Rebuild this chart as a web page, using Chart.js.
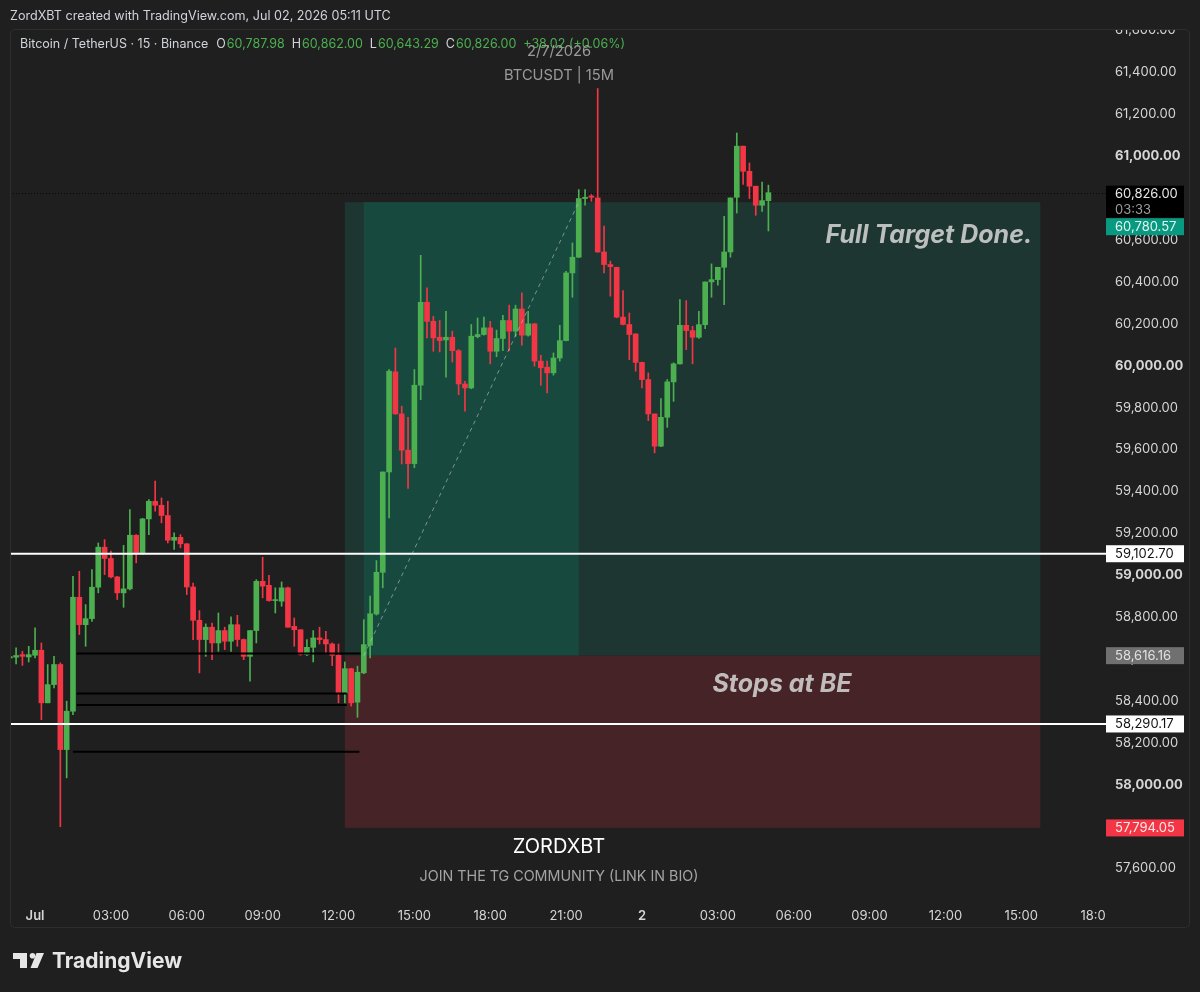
<!DOCTYPE html>
<html>
<head>
<meta charset="utf-8">
<script src="https://cdn.jsdelivr.net/npm/chart.js@4.4.1/dist/chart.umd.min.js"></script>
<style>
  html, body { margin: 0; padding: 0; background: #1f1f1f; }
</style>
</head>
<body>
<canvas id="btcChart" width="1200" height="992"></canvas>
<script>
// 15m candles, bar 0 = Jul 1 00:00 UTC
const firstBar = -4;
const opens = [
  58605, 58609, 58621, 58610,
  58618, 58642, 58391, 58478, 58574, 58168, 58351, 58895, 58764, 58793,
  58943, 59134, 59080, 58992, 58916, 58935, 59191, 59107, 59269, 59353,
  59334, 59285, 59167, 59181, 59150, 58944, 58785, 58693, 58752, 58677,
  58736, 58685, 58764, 58693, 58613, 58736, 58971, 58952, 58879, 58876,
  58940, 58756, 58740, 58621, 58656, 58701, 58693, 58672, 58618, 58438,
  58554, 58394, 58534, 58666, 58815, 59014, 59493, 59971, 59770, 59597,
  59533, 59907, 60303, 60212, 60136, 60123, 60136, 60072, 59913, 59894,
  60139, 60149, 60181, 60069, 60130, 60216, 60165, 60271, 60146, 60200,
  60022, 59993, 59966, 60037, 60120, 60443, 60518, 60798, 60810, 60801,
  60543, 60483, 60470, 60232, 60197, 60152, 60016, 59934, 59770, 59616,
  59754, 59923, 60009, 60193, 60168, 60136, 60196, 60400, 60411, 60470,
  60543, 60804, 61048, 60928, 60857, 60766, 60787.98
];
const highs = [
  58645, 58653, 58637, 58661,
  58749, 58677, 58574, 58613, 58582, 58399, 58995, 59019, 58860, 59027,
  59154, 59170, 59115, 58995, 59143, 59313, 59194, 59272, 59361, 59449,
  59369, 59353, 59202, 59194, 59152, 58963, 58831, 58768, 58772, 58820,
  58752, 58801, 58809, 58696, 58736, 58979, 59086, 59000, 58940, 58968,
  58943, 58796, 58740, 58693, 58736, 58752, 58732, 58677, 58672, 58586,
  58556, 58566, 58788, 58900, 59070, 59493, 59982, 60085, 59807, 59754,
  59982, 60527, 60372, 60236, 60216, 60260, 60165, 60077, 59926, 60197,
  60228, 60232, 60212, 60170, 60241, 60289, 60289, 60348, 60260, 60202,
  60050, 60022, 60061, 60193, 60451, 60586, 60841, 60841, 60817, 61323,
  60666, 60499, 60470, 60359, 60252, 60152, 60018, 59966, 59770, 59843,
  59934, 60014, 60316, 60311, 60188, 60260, 60400, 60486, 60470, 60713,
  60801, 61111, 61048, 60968, 60857, 60877, 60862
];
const lows = [
  58558, 58577, 58570, 58586,
  58606, 58311, 58391, 58462, 57800, 58033, 58335, 58717, 58661, 58780,
  58916, 59003, 58987, 58884, 58847, 58930, 59059, 59099, 59194, 59306,
  59250, 59154, 59123, 59131, 58908, 58693, 58534, 58613, 58597, 58637,
  58645, 58637, 58661, 58597, 58494, 58677, 58892, 58876, 58820, 58852,
  58752, 58661, 58618, 58616, 58586, 58672, 58625, 58569, 58391, 58391,
  58375, 58322, 58530, 58605, 58810, 58940, 59274, 59768, 59531, 59414,
  59513, 59838, 60133, 60069, 60066, 59945, 60018, 59862, 59783, 59890,
  60133, 60146, 60009, 60043, 60072, 60072, 60141, 60098, 60141, 59998,
  59907, 59870, 59955, 60022, 60118, 60327, 60516, 60766, 60785, 60541,
  60443, 60332, 60229, 60195, 60029, 59974, 59894, 59738, 59584, 59614,
  59706, 59830, 60007, 60077, 60009, 60130, 60177, 60327, 60384, 60292,
  60518, 60729, 60865, 60798, 60718, 60737, 60643.29
];
const closes = [
  58612, 58617, 58613, 58621,
  58642, 58391, 58478, 58574, 58168, 58351, 58895, 58764, 58793, 58943,
  59134, 59080, 58992, 58916, 58935, 59191, 59107, 59269, 59353, 59334,
  59285, 59167, 59181, 59150, 58944, 58785, 58693, 58752, 58677, 58736,
  58685, 58764, 58693, 58613, 58736, 58971, 58948, 58879, 58883, 58940,
  58752, 58740, 58621, 58656, 58701, 58693, 58672, 58618, 58438, 58554,
  58391, 58537, 58669, 58816, 59014, 59493, 59974, 59770, 59597, 59533,
  59907, 60303, 60212, 60133, 60120, 60136, 60072, 59913, 59894, 60141,
  60149, 60181, 60069, 60130, 60216, 60165, 60271, 60146, 60200, 60022,
  59990, 59966, 60037, 60120, 60443, 60518, 60798, 60804, 60804, 60543,
  60483, 60473, 60232, 60197, 60149, 60016, 59934, 59770, 59616, 59754,
  59923, 60009, 60193, 60168, 60136, 60196, 60400, 60411, 60470, 60543,
  60801, 61048, 60928, 60857, 60766, 60788, 60826
];

const timeTicks = [0, 12, 24, 36, 48, 60, 72, 84, 96, 108, 120, 132, 144, 156, 168];
const timeLabels = ['Jul', '03:00', '06:00', '09:00', '12:00', '15:00', '18:00', '21:00',
                    '2', '03:00', '06:00', '09:00', '12:00', '15:00', '18:00'];
const priceTicks = [57600, 57800, 58000, 58200, 58400, 58600, 58800, 59000, 59200,
                    59400, 59600, 59800, 60000, 60200, 60400, 60600, 60800, 61000,
                    61200, 61400, 61600];

// drawings
const horizontalLevels = [59102.70, 58290.17];
const liquidityPrices = [58626, 58436, 58381, 58158];
const liquidityFrom = [6.6, 6.6, 6.6, 6.0];
const liquidityTo = [51.5, 49.3, 49.3, 51.3];
const entryPrice = 58616.16;
const targetPrice = 60780.57;
const stopPrice = 57794.05;
const positionBars = [49, 159];     // start / end of long position tool
const runBars = [52, 86];           // entry -> target run

const visibleBars = [-3.962, 168.45];
const visiblePrices = [57450, 61612];

const bg = '#1f1f1f';
const upColor = '#4caf50';
const downColor = '#f23645';

const bars = opens.map((o, k) => firstBar + k);
const candleColors = opens.map((o, k) => closes[k] >= o ? upColor : downColor);
const last = opens.length - 1;

function fmt(v) {
  return v.toLocaleString('en-US', { minimumFractionDigits: 2, maximumFractionDigits: 2 });
}

const drawings = {
  id: 'drawings',
  beforeDatasetsDraw(chart) {
    const { ctx, chartArea: a, scales: { x, y } } = chart;
    const x0 = x.getPixelForValue(positionBars[0]);
    const x3 = x.getPixelForValue(positionBars[1]);
    const x1 = x.getPixelForValue(runBars[0]);
    const x2 = x.getPixelForValue(runBars[1]);
    const yT = y.getPixelForValue(targetPrice);
    const yE = y.getPixelForValue(entryPrice);
    const yS = y.getPixelForValue(stopPrice);
    ctx.save();
    ctx.fillStyle = '#1e3631';
    ctx.fillRect(x0, yT, x3 - x0, yE - yT);
    ctx.fillStyle = '#18493f';
    ctx.fillRect(x1, yT, x2 - x1, yE - yT);
    ctx.fillStyle = '#462327';
    ctx.fillRect(x0, yE, x3 - x0, yS - yE);

    // last price dotted line
    const yC = Math.round(y.getPixelForValue(closes[last])) + 0.5;
    ctx.strokeStyle = '#050505';
    ctx.lineWidth = 1;
    ctx.setLineDash([1, 2]);
    ctx.beginPath();
    ctx.moveTo(a.left, yC);
    ctx.lineTo(a.right + 6, yC);
    ctx.stroke();
    ctx.restore();
  },
  afterDatasetsDraw(chart) {
    const { ctx, chartArea: a, scales: { x, y } } = chart;
    ctx.save();
    // liquidity lines
    ctx.strokeStyle = '#000000';
    ctx.lineWidth = 2;
    liquidityPrices.forEach((p, k) => {
      const yy = y.getPixelForValue(p);
      ctx.beginPath();
      ctx.moveTo(x.getPixelForValue(liquidityFrom[k]), yy);
      ctx.lineTo(x.getPixelForValue(liquidityTo[k]), yy);
      ctx.stroke();
    });
    // white levels
    ctx.strokeStyle = '#ffffff';
    horizontalLevels.forEach(p => {
      const yy = y.getPixelForValue(p);
      ctx.beginPath();
      ctx.moveTo(a.left, yy);
      ctx.lineTo(a.right + 6, yy);
      ctx.stroke();
    });
    // entry -> target path
    ctx.strokeStyle = 'rgba(200,210,205,0.55)';
    ctx.lineWidth = 1;
    ctx.setLineDash([4, 4]);
    ctx.beginPath();
    ctx.moveTo(x.getPixelForValue(runBars[0]), y.getPixelForValue(entryPrice));
    ctx.lineTo(x.getPixelForValue(runBars[1]), y.getPixelForValue(targetPrice));
    ctx.stroke();
    ctx.setLineDash([]);

    // annotations
    ctx.fillStyle = 'rgba(215,215,215,0.85)';
    ctx.font = 'italic bold 25px Inter';
    ctx.textBaseline = 'middle';
    ctx.textAlign = 'right';
    ctx.fillText('Full Target Done.', x.getPixelForValue(positionBars[1]) - 8, y.getPixelForValue(targetPrice) + 33);
    ctx.textAlign = 'center';
    ctx.fillText('Stops at BE', 782, y.getPixelForValue(entryPrice) + 29);

    ctx.fillStyle = '#ffffff';
    ctx.font = '20px Inter';
    ctx.fillText('ZORDXBT', 559, 847);
    ctx.fillStyle = '#a3a3a3';
    ctx.font = '14.3px Inter';
    ctx.fillText('JOIN THE TG COMMUNITY (LINK IN BIO)', 559, 877);
    ctx.fillStyle = '#9a9a9a';
    ctx.font = '14.7px Inter';
    ctx.fillText('BTCUSDT | 15M', 559, 76);
    ctx.restore();
  },
  afterDraw(chart) {
    const { ctx, chartArea: a, scales: { x, y } } = chart;
    ctx.save();
    // pane clipping of axis labels
    ctx.fillStyle = bg;
    ctx.fillRect(a.right + 1, 0, 100, 29);
    ctx.fillRect(1105, a.bottom + 2, 84, 24);

    // frame
    ctx.strokeStyle = '#2e2e2e';
    ctx.lineWidth = 1;
    ctx.beginPath();
    ctx.roundRect(10.5, 29.5, 1179, 898, 4);
    ctx.stroke();

    // header
    ctx.textBaseline = 'middle';
    ctx.textAlign = 'left';
    ctx.fillStyle = '#d1d4dc';
    ctx.font = '12.6px Inter';
    ctx.fillText('ZordXBT created with TradingView.com, Jul 02, 2026 05:11 UTC', 10, 16);

    // legend
    const chg = closes[last] - opens[last];
    const pct = chg / opens[last] * 100;
    const legend = [
      ['Bitcoin / TetherUS · 15 · Binance', '#d1d4dc', 8],
      ['O', '#d1d4dc', 1], [fmt(opens[last]), upColor, 7],
      ['H', '#d1d4dc', 1], [fmt(highs[last]), upColor, 7],
      ['L', '#d1d4dc', 1], [fmt(lows[last]), upColor, 7],
      ['C', '#d1d4dc', 1], [fmt(closes[last]), upColor, 7],
      ['+' + fmt(chg) + ' (+' + pct.toFixed(2) + '%)', upColor, 0]
    ];
    ctx.font = '12.5px Inter';
    let lx = 20;
    legend.forEach(([t, c, gap]) => {
      ctx.fillStyle = c;
      ctx.fillText(t, lx, 44);
      lx += ctx.measureText(t).width + gap;
    });
    ctx.fillStyle = '#9a9a9a';
    ctx.font = '14.7px Inter';
    ctx.textAlign = 'center';
    ctx.fillText('2/7/2026', 559, 52);

    // price labels on the axis
    const boxX = a.right + 6, boxW = 78;
    ctx.textAlign = 'left';
    function priceBox(yc, h, fill, color, text) {
      ctx.fillStyle = fill;
      ctx.fillRect(boxX, yc - h / 2, boxW, h);
      ctx.fillStyle = color;
      ctx.font = '13px Inter';
      ctx.fillText(text, boxX + 9, yc + 0.5);
    }
    const yC = y.getPixelForValue(closes[last]);
    ctx.fillStyle = '#000000';
    ctx.fillRect(boxX, yC - 7, boxW, 32);
    ctx.fillStyle = '#e8e8e8';
    ctx.font = '13px Inter';
    ctx.fillText(fmt(closes[last]), boxX + 9, yC + 1);
    ctx.fillStyle = '#9c9c9c';
    ctx.fillText('03:33', boxX + 9, yC + 17);
    priceBox(yC + 34, 17, '#089981', '#e6f5f1', fmt(targetPrice));
    horizontalLevels.forEach(p => priceBox(y.getPixelForValue(p), 17, '#ffffff', '#111111', fmt(p)));
    priceBox(y.getPixelForValue(entryPrice), 17, '#707070', '#e0e0e0', fmt(entryPrice));
    priceBox(y.getPixelForValue(stopPrice), 17, downColor, '#ffe9ea', fmt(stopPrice));

    // TradingView logo
    ctx.fillStyle = '#e6e6e6';
    ctx.fillRect(13, 953, 14, 6);
    ctx.fillRect(20, 953, 7, 15);
    ctx.beginPath();
    ctx.arc(32.5, 955.7, 2.8, 0, Math.PI * 2);
    ctx.fill();
    ctx.beginPath();
    ctx.moveTo(36.5, 953);
    ctx.lineTo(44, 953);
    ctx.lineTo(37.5, 968);
    ctx.lineTo(30.5, 968);
    ctx.closePath();
    ctx.fill();
    ctx.font = 'bold 21px Inter';
    ctx.textBaseline = 'alphabetic';
    ctx.fillText('TradingView', 52, 968);
    ctx.restore();
  }
};

const ctx = document.getElementById('btcChart').getContext('2d');
new Chart(ctx, {
  type: 'bar',
  data: {
    datasets: [{
      label: 'body',
      data: bars.map((b, k) => ({ x: b, y: [opens[k], closes[k]] })),
      backgroundColor: candleColors,
      barThickness: 5,
      minBarLength: 1,
      grouped: false
    }, {
      label: 'wick',
      data: bars.map((b, k) => ({ x: b, y: [lows[k], highs[k]] })),
      backgroundColor: candleColors,
      barThickness: 1,
      grouped: false
    }]
  },
  options: {
    responsive: false,
    animation: false,
    events: [],
    layout: { padding: { left: 10, top: 28, right: 0, bottom: 0 } },
    plugins: {
      legend: { display: false },
      tooltip: { enabled: false }
    },
    scales: {
      x: {
        type: 'linear',
        position: 'bottom',
        offset: false,
        min: visibleBars[0],
        max: visibleBars[1],
        grid: { display: false, drawTicks: false, offset: false },
        border: { display: false },
        afterBuildTicks: s => { s.ticks = timeTicks.map(v => ({ value: v })); },
        afterFit: s => { s.height = 92; },
        ticks: {
          autoSkip: false,
          maxRotation: 0,
          padding: 8,
          color: '#d6d6d6',
          font: c => ({ family: 'Inter', size: 13, weight: c.tick && c.tick.value % 96 === 0 ? '600' : '400' }),
          callback: (v, i) => timeLabels[i]
        }
      },
      y: {
        type: 'linear',
        position: 'right',
        min: visiblePrices[0],
        max: visiblePrices[1],
        grid: { display: false, drawTicks: false },
        border: { display: false },
        afterBuildTicks: s => { s.ticks = priceTicks.map(v => ({ value: v })); },
        afterFit: s => { s.width = 100; },
        ticks: {
          crossAlign: 'near',
          padding: 15,
          color: '#d6d6d6',
          font: c => ({ family: 'Inter', size: 13, weight: c.tick && c.tick.value % 1000 === 0 ? 'bold' : '400' }),
          callback: v => fmt(v)
        }
      }
    }
  },
  plugins: [drawings]
});
</script>
</body>
</html>
